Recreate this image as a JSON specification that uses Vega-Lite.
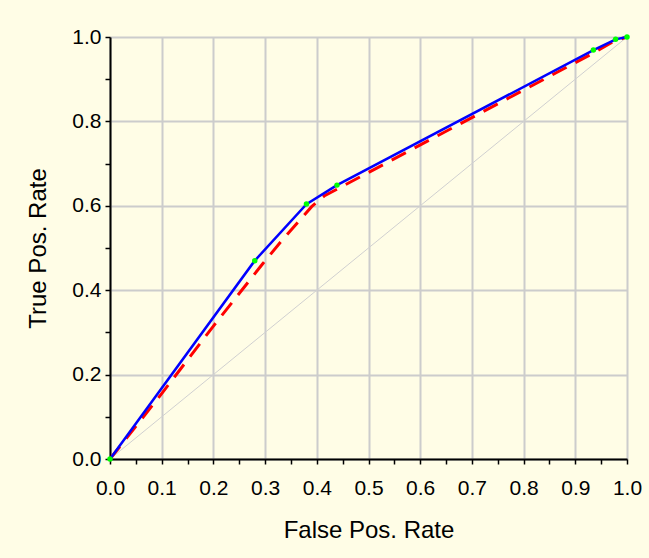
{
  "$schema": "https://vega.github.io/schema/vega-lite/v6.json",
  "width": 517,
  "height": 422,
  "autosize": {"type": "none"},
  "padding": {"left": 110, "top": 37, "right": 22, "bottom": 99},
  "background": "#FFFDE6",
  "config": {
    "view": {"stroke": null},
    "font": "Liberation Sans"
  },
  "data": {
    "values": [
      {"series": "diag", "fpr": 0, "tpr": 0},
      {"series": "diag", "fpr": 1, "tpr": 1},
      {"series": "blue", "fpr": 0, "tpr": 0},
      {"series": "blue", "fpr": 0.28, "tpr": 0.47},
      {"series": "blue", "fpr": 0.38, "tpr": 0.604},
      {"series": "blue", "fpr": 0.439, "tpr": 0.649},
      {"series": "blue", "fpr": 0.935, "tpr": 0.969},
      {"series": "blue", "fpr": 0.978, "tpr": 0.9945},
      {"series": "blue", "fpr": 1, "tpr": 1},
      {"series": "red", "fpr": 0, "tpr": 0},
      {"series": "red", "fpr": 0.1, "tpr": 0.155},
      {"series": "red", "fpr": 0.2, "tpr": 0.315},
      {"series": "red", "fpr": 0.295, "tpr": 0.462},
      {"series": "red", "fpr": 0.334, "tpr": 0.52},
      {"series": "red", "fpr": 0.39, "tpr": 0.598},
      {"series": "red", "fpr": 0.415, "tpr": 0.624},
      {"series": "red", "fpr": 0.44, "tpr": 0.64},
      {"series": "red", "fpr": 0.935, "tpr": 0.962},
      {"series": "red", "fpr": 0.975, "tpr": 0.99},
      {"series": "red", "fpr": 1, "tpr": 1},
      {"series": "pts", "fpr": 0, "tpr": 0},
      {"series": "pts", "fpr": 0.28, "tpr": 0.47},
      {"series": "pts", "fpr": 0.38, "tpr": 0.604},
      {"series": "pts", "fpr": 0.439, "tpr": 0.649},
      {"series": "pts", "fpr": 0.935, "tpr": 0.969},
      {"series": "pts", "fpr": 0.978, "tpr": 0.9945},
      {"series": "pts", "fpr": 1, "tpr": 1}
    ]
  },
  "encoding": {
    "x": {
      "field": "fpr", "type": "quantitative",
      "scale": {"domain": [0, 1], "nice": false},
      "axis": {
        "orient": "bottom",
        "values": [0, 0.05, 0.1, 0.15, 0.2, 0.25, 0.3, 0.35, 0.4, 0.45, 0.5, 0.55, 0.6, 0.65, 0.7, 0.75, 0.8, 0.85, 0.9, 0.95, 1],
        "labelExpr": "round(datum.value*20) % 2 == 0 ? format(datum.value, '.1f') : ''",
        "grid": true,
        "gridColor": "#cccccc",
        "gridWidth": 2,
        "gridOpacity": {"condition": {"test": "round(datum.value*20) % 2 == 0", "value": 1}, "value": 0},
        "domainColor": "#000000",
        "domainWidth": 2,
        "tickColor": "#000000",
        "tickWidth": 1.5,
        "tickSize": 5,
        "labelFontSize": 21,
        "labelColor": "#000000",
        "labelPadding": 13,
        "labelFlush": false,
        "labelOverlap": false,
        "labelBound": false,
        "title": "False Pos. Rate",
        "titleFontSize": 24,
        "titleFontWeight": "normal",
        "titleColor": "#000000",
        "titlePadding": 20
      }
    },
    "y": {
      "field": "tpr", "type": "quantitative",
      "scale": {"domain": [0, 1], "nice": false},
      "axis": {
        "orient": "left",
        "values": [0, 0.1, 0.2, 0.3, 0.4, 0.5, 0.6, 0.7, 0.8, 0.9, 1],
        "labelExpr": "round(datum.value*10) % 2 == 0 ? format(datum.value, '.1f') : ''",
        "grid": true,
        "gridColor": "#cccccc",
        "gridWidth": 2,
        "gridOpacity": {"condition": {"test": "round(datum.value*10) % 2 == 0", "value": 1}, "value": 0},
        "domainColor": "#000000",
        "domainWidth": 2,
        "tickColor": "#000000",
        "tickWidth": 1.5,
        "tickSize": 5,
        "labelFontSize": 21,
        "labelColor": "#000000",
        "labelPadding": 4,
        "labelFlush": false,
        "labelOverlap": false,
        "labelBound": false,
        "title": "True Pos. Rate",
        "titleFontSize": 24,
        "titleFontWeight": "normal",
        "titleColor": "#000000",
        "titlePadding": 21
      }
    }
  },
  "layer": [
    {
      "transform": [{"filter": "datum.series == 'diag'"}],
      "mark": {"type": "line", "color": "#d0d0d0", "strokeWidth": 1}
    },
    {
      "transform": [{"filter": "datum.series == 'red'"}],
      "mark": {"type": "line", "color": "#ff0000", "strokeWidth": 3, "strokeDash": [16, 10]}
    },
    {
      "transform": [{"filter": "datum.series == 'blue'"}],
      "mark": {"type": "line", "color": "#0000ff", "strokeWidth": 2.5}
    },
    {
      "transform": [{"filter": "datum.series == 'pts'"}],
      "mark": {"type": "circle", "color": "#00ff00", "size": 30, "opacity": 1}
    }
  ]
}
